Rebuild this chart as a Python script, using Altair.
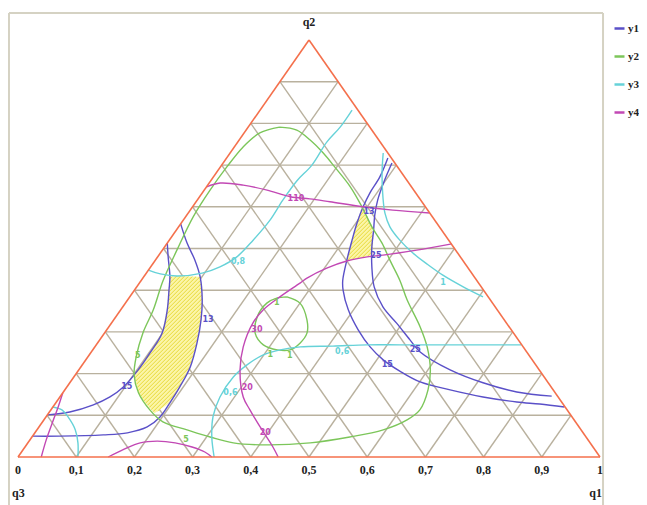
import altair as alt
import pandas as pd

# ---------------- data ----------------
levels = [0.1, 0.2, 0.3, 0.4, 0.5, 0.6, 0.7, 0.8, 0.9]
tick_values = [0.0, 0.1, 0.2, 0.3, 0.4, 0.5, 0.6, 0.7, 0.8, 0.9, 1.0]
tick_labels = ["0", "0,1", "0,2", "0,3", "0,4", "0,5", "0,6", "0,7", "0,8", "0,9", "1"]

series_names = ["y1", "y2", "y3", "y4"]
series_colors = ["#5a50c8", "#7cc65a", "#66d2d8", "#c248b4"]

# contour curves, as (q1, q2) compositions (q3 = 1 - q1 - q2)
y1_a_q1 = [0.000, 0.018, 0.045, 0.059, 0.080, 0.099, 0.102, 0.102, 0.097, 0.086, 0.067, 0.035, 0.000]
y1_a_q2 = [0.513, 0.480, 0.432, 0.401, 0.353, 0.297, 0.249, 0.209, 0.168, 0.144, 0.125, 0.108, 0.101]
y1_b_q1 = [0.000, 0.034, 0.068, 0.097, 0.128, 0.150, 0.171, 0.188, 0.194, 0.196, 0.196, 0.186, 0.159, 0.120, 0.047, 0.000]
y1_b_q2 = [0.559, 0.513, 0.472, 0.432, 0.377, 0.329, 0.273, 0.216, 0.168, 0.130, 0.096, 0.072, 0.058, 0.053, 0.050, 0.050]
y1_c_q1 = [0.277, 0.286, 0.288, 0.293, 0.302, 0.314, 0.329, 0.346, 0.358, 0.391, 0.432, 0.473, 0.511, 0.553, 0.601, 0.662, 0.727, 0.791, 0.833, 0.879]
y1_c_q2 = [0.717, 0.671, 0.633, 0.600, 0.561, 0.520, 0.472, 0.424, 0.401, 0.353, 0.305, 0.264, 0.233, 0.206, 0.180, 0.161, 0.144, 0.132, 0.127, 0.120]
y1_d_q1 = [0.290, 0.298, 0.310, 0.323, 0.339, 0.356, 0.380, 0.408, 0.447, 0.490, 0.533, 0.565, 0.638, 0.710, 0.779, 0.844]
y1_d_q2 = [0.705, 0.664, 0.616, 0.580, 0.544, 0.504, 0.456, 0.408, 0.360, 0.321, 0.281, 0.252, 0.209, 0.178, 0.156, 0.146]

y2_a_q1 = [0.054, 0.087, 0.122, 0.160, 0.197, 0.247, 0.291, 0.332, 0.369, 0.403, 0.444, 0.480, 0.535, 0.571,
           0.604, 0.624, 0.634, 0.624, 0.595, 0.546, 0.485, 0.413, 0.353, 0.306, 0.258, 0.207, 0.170, 0.130,
           0.101, 0.083, 0.066, 0.056, 0.038, 0.025, 0.013, 0.010, 0.011, 0.015, 0.027, 0.054]
y2_a_q2 = [0.791, 0.784, 0.760, 0.729, 0.695, 0.648, 0.600, 0.552, 0.513, 0.472, 0.424, 0.377, 0.312, 0.264,
           0.209, 0.161, 0.113, 0.089, 0.065, 0.048, 0.034, 0.029, 0.034, 0.048, 0.065, 0.084, 0.113, 0.154,
           0.197, 0.240, 0.297, 0.353, 0.422, 0.496, 0.576, 0.640, 0.695, 0.743, 0.777, 0.791]
y2_b_q1 = [0.270, 0.300, 0.332, 0.348, 0.348, 0.339, 0.317, 0.287, 0.259, 0.243, 0.243, 0.254, 0.270]
y2_b_q2 = [0.384, 0.369, 0.329, 0.297, 0.273, 0.257, 0.257, 0.269, 0.297, 0.336, 0.369, 0.381, 0.384]

y3_a_q1 = [0.158, 0.158, 0.153, 0.155, 0.148, 0.147, 0.149, 0.144, 0.136, 0.119, 0.096, 0.056, 0.025, 0.000]
y3_a_q2 = [0.832, 0.791, 0.755, 0.700, 0.662, 0.616, 0.568, 0.520, 0.480, 0.456, 0.441, 0.434, 0.439, 0.448]
y3_b_q1 = [0.263, 0.285, 0.315, 0.338, 0.363, 0.396, 0.434, 0.471, 0.512, 0.561, 0.607]
y3_b_q2 = [0.729, 0.681, 0.624, 0.585, 0.552, 0.520, 0.489, 0.463, 0.436, 0.408, 0.384]
y3_c_q1 = [0.337, 0.309, 0.287, 0.275, 0.274, 0.283, 0.299, 0.322, 0.353, 0.408, 0.465, 0.522, 0.579, 0.665, 0.730]
y3_c_q2 = [0.000, 0.048, 0.096, 0.144, 0.192, 0.221, 0.245, 0.257, 0.264, 0.266, 0.269, 0.269, 0.269, 0.269, 0.269]
y3_d_q1 = [0.000, 0.019, 0.038, 0.066, 0.086, 0.103]
y3_d_q2 = [0.120, 0.113, 0.096, 0.065, 0.034, 0.000]

y4_a_q1 = [0.000, 0.019, 0.061, 0.108, 0.156, 0.192, 0.230, 0.293, 0.348, 0.415]
y4_a_q2 = [0.648, 0.657, 0.652, 0.640, 0.624, 0.619, 0.612, 0.600, 0.592, 0.585]
y4_b_q1 = [0.490, 0.437, 0.385, 0.360, 0.330, 0.304, 0.282, 0.276, 0.258, 0.245, 0.243, 0.255, 0.277, 0.315,
           0.342, 0.380, 0.426, 0.447]
y4_b_q2 = [0.511, 0.496, 0.484, 0.480, 0.470, 0.453, 0.429, 0.417, 0.384, 0.353, 0.321, 0.264, 0.209, 0.144,
           0.113, 0.072, 0.024, 0.000]
y4_c_q1 = [0.155, 0.173, 0.193, 0.220, 0.253, 0.287, 0.315, 0.333]
y4_c_q2 = [0.000, 0.019, 0.034, 0.038, 0.034, 0.024, 0.012, 0.000]
y4_d_q1 = [0.000, 0.009, 0.018, 0.028, 0.040]
y4_d_q2 = [0.154, 0.120, 0.082, 0.041, 0.000]

# feasible (hatched) regions
zone1_q1 = [0.045, 0.056, 0.097, 0.128, 0.150, 0.171, 0.188, 0.194, 0.196, 0.182, 0.149, 0.130, 0.101, 0.102,
            0.102, 0.099, 0.080, 0.059, 0.045]
zone1_q2 = [0.432, 0.434, 0.432, 0.377, 0.329, 0.273, 0.216, 0.168, 0.130, 0.105, 0.134, 0.154, 0.197, 0.209,
            0.249, 0.297, 0.353, 0.401, 0.432]
zone2_q1 = [0.292, 0.312, 0.332, 0.350, 0.366, 0.349, 0.330, 0.322, 0.314, 0.302, 0.292]
zone2_q2 = [0.597, 0.576, 0.552, 0.520, 0.484, 0.477, 0.470, 0.496, 0.520, 0.561, 0.597]

# contour value labels
label_series = ["y4", "y1", "y1", "y3", "y1", "y4", "y2", "y2", "y2", "y3", "y1", "y1", "y2", "y1", "y3",
                "y4", "y4", "y2", "y3"]
label_text = ["110", "13", "25", "0,8", "13", "30", "1", "1", "1", "0,6", "25", "15", "5", "15", "0,6",
              "20", "20", "5", "1"]
label_q1 = [0.168, 0.309, 0.374, 0.144, 0.162, 0.258, 0.260, 0.311, 0.346, 0.431, 0.554, 0.524, 0.085, 0.103,
            0.288, 0.311, 0.396, 0.268, 0.522]
label_q2 = [0.619, 0.588, 0.482, 0.468, 0.329, 0.305, 0.369, 0.245, 0.242, 0.252, 0.257, 0.221, 0.242, 0.168,
            0.154, 0.166, 0.058, 0.041, 0.417]

# ---------------- geometry helpers ----------------
W, H = 631, 497
XMIN, XMAX = -0.017182, 1.067010
YMAX = 1.076739
YMIN = YMAX - H / 417.0
PXU = W / (XMAX - XMIN)
PYU = H / (YMAX - YMIN)


def to_x(q1, q2):
    return q1 + q2 / 2.0


curve_list = [
    ("y1", "y1a", y1_a_q1, y1_a_q2), ("y1", "y1b", y1_b_q1, y1_b_q2),
    ("y1", "y1c", y1_c_q1, y1_c_q2), ("y1", "y1d", y1_d_q1, y1_d_q2),
    ("y2", "y2a", y2_a_q1, y2_a_q2), ("y2", "y2b", y2_b_q1, y2_b_q2),
    ("y3", "y3a", y3_a_q1, y3_a_q2), ("y3", "y3b", y3_b_q1, y3_b_q2),
    ("y3", "y3c", y3_c_q1, y3_c_q2), ("y3", "y3d", y3_d_q1, y3_d_q2),
    ("y4", "y4a", y4_a_q1, y4_a_q2), ("y4", "y4b", y4_b_q1, y4_b_q2),
    ("y4", "y4c", y4_c_q1, y4_c_q2), ("y4", "y4d", y4_d_q1, y4_d_q2),
]
rows = []
for s, cid, a1, a2 in curve_list:
    for i, (q1, q2) in enumerate(zip(a1, a2)):
        rows.append({"series": s, "curve": cid, "idx": i, "x": to_x(q1, q2), "y": q2})
curves_df = pd.DataFrame(rows)

zrows = []
for zid, a1, a2 in [("z1", zone1_q1, zone1_q2), ("z2", zone2_q1, zone2_q2)]:
    for i, (q1, q2) in enumerate(zip(a1, a2)):
        zrows.append({"zone": zid, "idx": i, "x": to_x(q1, q2), "y": q2})
zones_df = pd.DataFrame(zrows)


def hatch(a1, a2, step=4.0):
    xs = [to_x(p, q) for p, q in zip(a1, a2)]
    ys = list(a2)
    s = [PXU * x - PYU * y for x, y in zip(xs, ys)]
    segs = []
    c = min(s) + step / 2
    while c < max(s):
        pts = []
        for i in range(len(xs) - 1):
            a, b = s[i] - c, s[i + 1] - c
            if (a < 0) != (b < 0):
                t = a / (a - b)
                pts.append((xs[i] + t * (xs[i + 1] - xs[i]), ys[i] + t * (ys[i + 1] - ys[i])))
        pts.sort(key=lambda p: p[1])
        for j in range(0, len(pts) - 1, 2):
            segs.append({"x": pts[j][0], "y": pts[j][1], "x2": pts[j + 1][0], "y2": pts[j + 1][1]})
        c += step
    return segs


hatch_df = pd.DataFrame(hatch(zone1_q1, zone1_q2) + hatch(zone2_q1, zone2_q2))

grid_rows = []
for k in levels:
    grid_rows.append({"x": k / 2, "y": k, "x2": 1 - k / 2, "y2": k})
    grid_rows.append({"x": k, "y": 0.0, "x2": k + (1 - k) / 2, "y2": 1 - k})
    grid_rows.append({"x": 1 - k, "y": 0.0, "x2": (1 - k) / 2, "y2": 1 - k})
grid_df = pd.DataFrame(grid_rows)

edges_df = pd.DataFrame([
    {"x": 0.0, "y": 0.0, "x2": 1.0, "y2": 0.0},
    {"x": 0.0, "y": 0.0, "x2": 0.5, "y2": 1.0},
    {"x": 1.0, "y": 0.0, "x2": 0.5, "y2": 1.0},
])

frame_left, frame_right, frame_top = -0.0155, 1.0052, 1.0647
frame_df = pd.DataFrame([
    {"x": frame_left, "y": YMIN, "x2": frame_left, "y2": frame_top},
    {"x": frame_left, "y": frame_top, "x2": frame_right, "y2": frame_top},
    {"x": frame_right, "y": YMIN, "x2": frame_right, "y2": frame_top},
])

ticks_df = pd.DataFrame({"x": tick_values, "y": [0.0] * len(tick_values), "label": tick_labels})
labels_df = pd.DataFrame({
    "series": label_series, "text": label_text,
    "x": [to_x(a, b) for a, b in zip(label_q1, label_q2)], "y": label_q2,
})

# ---------------- chart ----------------
xs = alt.Scale(domain=[XMIN, XMAX], nice=False, zero=False)
ys = alt.Scale(domain=[YMIN, YMAX], nice=False, zero=False)
X = alt.X("x:Q", scale=xs, axis=None)
Y = alt.Y("y:Q", scale=ys, axis=None)
color_scale = alt.Scale(domain=series_names, range=series_colors)
FONT = "Liberation Serif"

frame = alt.Chart(frame_df).mark_rule(color="#d5d2c3", strokeWidth=2).encode(
    x=X, y=Y, x2="x2:Q", y2="y2:Q")
grid = alt.Chart(grid_df).mark_rule(color="#b9b19e", strokeWidth=1.4).encode(
    x=X, y=Y, x2="x2:Q", y2="y2:Q")
zones = alt.Chart(zones_df).mark_line(fill="#fbf5a8", strokeWidth=0, interpolate="linear").encode(
    x=X, y=Y, detail="zone:N", order="idx:Q")
hatches = alt.Chart(hatch_df).mark_rule(color="#e8da38", strokeWidth=1).encode(
    x=X, y=Y, x2="x2:Q", y2="y2:Q")
lines = alt.Chart(curves_df).mark_line(strokeWidth=1.4, interpolate="catmull-rom").encode(
    x=X, y=Y, detail="curve:N", order="idx:Q",
    color=alt.Color("series:N", scale=color_scale, legend=alt.Legend(
        title=None, orient="none", legendX=605, legendY=14, symbolType="stroke",
        symbolSize=100, symbolStrokeWidth=2.5, labelFont=FONT, labelFontSize=11,
        labelFontWeight="bold", labelColor="#222222", rowPadding=16, labelOffset=2, padding=0)))
edges = alt.Chart(edges_df).mark_rule(color="#f4704c", strokeWidth=1.6).encode(
    x=X, y=Y, x2="x2:Q", y2="y2:Q")
contour_labels = alt.Chart(labels_df).mark_text(
    font="DejaVu Sans", fontSize=8, fontWeight="bold", baseline="middle", align="center").encode(
    x=X, y=Y, text="text:N", color=alt.Color("series:N", scale=color_scale, legend=None))
tick_text = alt.Chart(ticks_df).mark_text(
    font=FONT, fontSize=12, fontWeight="bold", baseline="middle", align="center", dy=13,
    color="#222222").encode(x=X, y=Y, text="label:N")

corner_df = pd.DataFrame({"x": [1.0, 0.5, 0.0], "y": [0.0, 1.0, 0.0], "label": ["q1", "q2", "q3"]})
corner_q1 = alt.Chart(corner_df.iloc[[0]]).mark_text(
    font=FONT, fontSize=12, fontWeight="bold", align="right", baseline="middle", dy=36, dx=2,
    color="#222222").encode(x=X, y=Y, text="label:N")
corner_q2 = alt.Chart(corner_df.iloc[[1]]).mark_text(
    font=FONT, fontSize=12, fontWeight="bold", align="center", baseline="middle", dy=-18,
    color="#222222").encode(x=X, y=Y, text="label:N")
corner_q3 = alt.Chart(corner_df.iloc[[2]]).mark_text(
    font=FONT, fontSize=12, fontWeight="bold", align="left", baseline="middle", dy=36, dx=-6,
    color="#222222").encode(x=X, y=Y, text="label:N")

chart = alt.layer(
    frame, grid, zones, hatches, lines, edges, contour_labels, tick_text, corner_q1, corner_q2, corner_q3
).properties(
    width=W, height=H, autosize=alt.AutoSizeParams(type="none"), padding=0
).configure_view(stroke=None)

chart.save("out.html", embed_options={"renderer": "svg", "actions": False})
